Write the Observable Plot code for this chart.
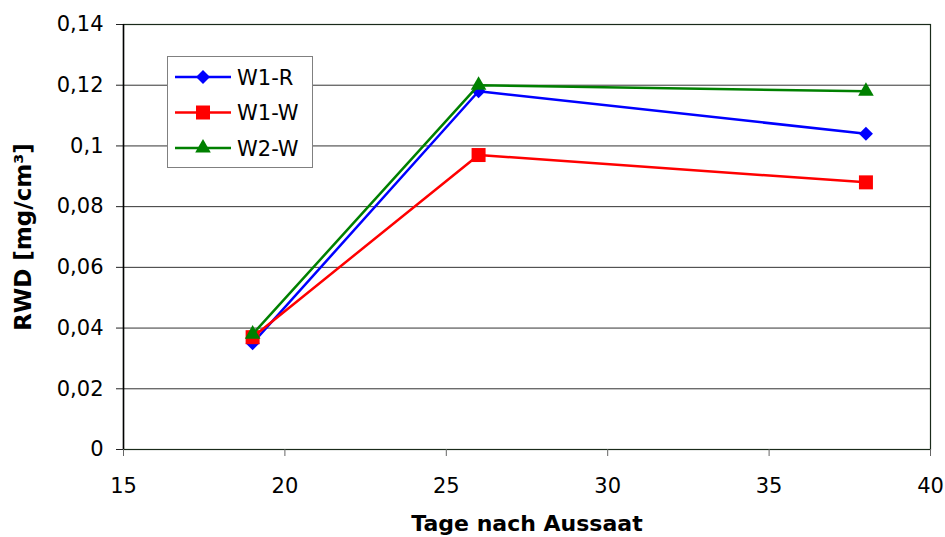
<!DOCTYPE html>
<html>
<head>
<meta charset="utf-8">
<script src="https://cdn.jsdelivr.net/npm/d3@7"></script>
<script src="https://cdn.jsdelivr.net/npm/@observablehq/plot@0.6"></script>
<style>
  html, body { margin: 0; padding: 0; background: #fff; }
  #chart { position: relative; width: 945px; height: 537px; }
</style>
</head>
<body>
<div id="chart"></div>
<script>
// Root dry weight density over days after sowing, three variants
const days = [19, 26, 38];
const w1r = [0.035, 0.118, 0.104];
const w1w = [0.037, 0.097, 0.088];
const w2w = [0.038, 0.120, 0.118];

const seriesNames = ["W1-R", "W1-W", "W2-W"];
const seriesValues = [w1r, w1w, w2w];
const seriesColors = ["#0000ff", "#ff0000", "#008000"];
const seriesSymbols = ["diamond2", "square", "triangle"];
const seriesRadius = [6.3, 7.9, 5.8];

const xTicks = [15, 20, 25, 30, 35, 40];
const yTicks = [0, 0.02, 0.04, 0.06, 0.08, 0.1, 0.12, 0.14];

const xTitle = "Tage nach Aussaat";
const yTitle = "RWD [mg/cm³]";

// long table: one row per series and day
const rows = seriesNames.flatMap((name, i) =>
  days.map((d, j) => ({series: name, day: d, value: seriesValues[i][j]}))
);

const tickFont = "DejaVu Sans, sans-serif";
const fmtComma = v => String(+v.toFixed(4)).replace(".", ",");

// legend box drawn inside the plot area
function legend(index, scales, values, dims) {
  const g = d3.create("svg:g");
  const x0 = 167, y0 = 56, w = 145, h = 111;
  g.append("rect")
    .attr("x", x0 + 0.5).attr("y", y0 + 0.5)
    .attr("width", w).attr("height", h)
    .attr("fill", "#fff").attr("stroke", "#808080").attr("stroke-width", 1);
  const symbolMap = {diamond2: d3.symbolDiamond2, square: d3.symbolSquare, triangle: d3.symbolTriangle};
  seriesNames.forEach((name, i) => {
    const cy = 77 + i * 35.5;
    g.append("line")
      .attr("x1", 175).attr("x2", 231).attr("y1", cy).attr("y2", cy)
      .attr("stroke", seriesColors[i]).attr("stroke-width", 2.5);
    const r = seriesRadius[i];
    g.append("path")
      .attr("transform", `translate(203,${cy})`)
      .attr("d", d3.symbol(symbolMap[seriesSymbols[i]], r * r * Math.PI)())
      .attr("fill", seriesColors[i]);
    g.append("text")
      .attr("x", 237).attr("y", cy).attr("dy", "0.36em")
      .attr("text-anchor", "start")
      .attr("font-family", tickFont).attr("font-size", 21)
      .attr("fill", "#000")
      .text(name);
  });
  return g.node();
}

const marks = [
  Plot.gridY(yTicks, {stroke: "#333", strokeOpacity: 1, strokeWidth: 1}),
  Plot.frame({stroke: "#1a2a1a", strokeWidth: 1.2}),
  Plot.axisY(yTicks, {
    tickSize: 7, tickPadding: 13, tickFormat: fmtComma,
    fontSize: 21, fontFamily: tickFont, stroke: "#222", label: null
  }),
  Plot.axisX(xTicks, {
    tickSize: 7, tickPadding: 22, tickFormat: d => String(d),
    fontSize: 21, fontFamily: tickFont, stroke: "#666", label: null
  }),
  Plot.ruleX([15], {stroke: "#000", strokeWidth: 1.5})
];

seriesNames.forEach((name, i) => {
  const data = rows.filter(r => r.series === name);
  marks.push(Plot.line(data, {x: "day", y: "value", stroke: seriesColors[i], strokeWidth: 2.5}));
  marks.push(Plot.dot(data, {x: "day", y: "value", fill: seriesColors[i], stroke: "none",
                             symbol: () => seriesSymbols[i], r: seriesRadius[i]}));
});

marks.push(legend);

marks.push(Plot.text([xTitle], {
  frameAnchor: "bottom", dy: 74, lineAnchor: "middle", textAnchor: "middle",
  fontFamily: tickFont, fontWeight: "bold", fontSize: 22, fill: "#000"
}));
marks.push(Plot.text([yTitle], {
  frameAnchor: "left", dx: -100, rotate: -90, lineAnchor: "middle", textAnchor: "middle",
  fontFamily: tickFont, fontWeight: "bold", fontSize: 23, fill: "#000"
}));

const chart = Plot.plot({
  width: 945,
  height: 537,
  marginLeft: 123,
  marginRight: 15,
  marginTop: 24,
  marginBottom: 88,
  style: {background: "#fff", color: "#000", fontFamily: tickFont, overflow: "visible"},
  x: {domain: [15, 40]},
  y: {domain: [0, 0.14]},
  marks
});

document.getElementById("chart").appendChild(chart);
</script>
</body>
</html>
